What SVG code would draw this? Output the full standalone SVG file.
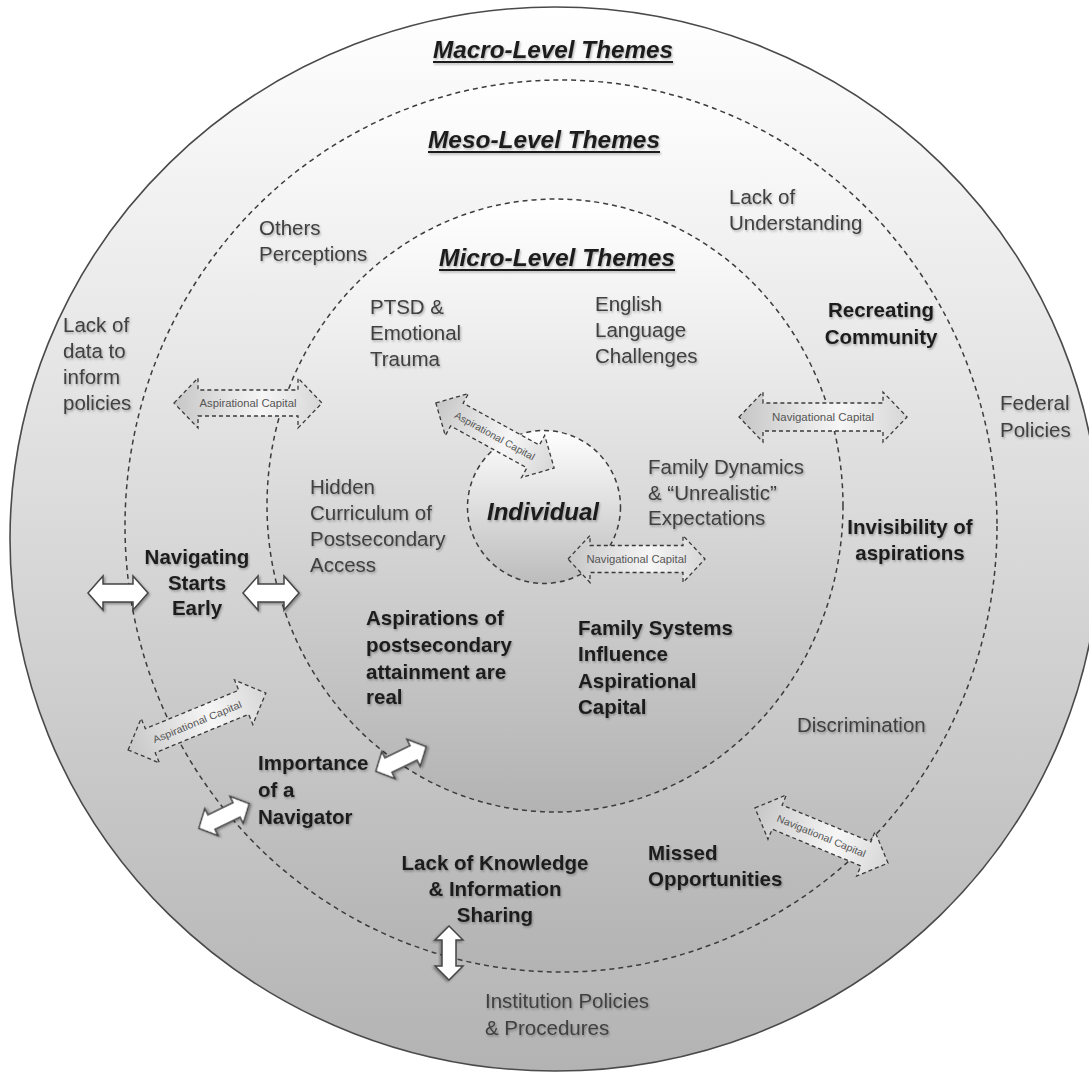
<svg xmlns="http://www.w3.org/2000/svg" width="1089" height="1072" viewBox="0 0 1089 1072">
<defs>
<linearGradient id="gFill" x1="0" y1="0" x2="0" y2="1">
<stop offset="0" stop-color="#ffffff"/>
<stop offset="1" stop-color="#b3b3b3"/>
</linearGradient>
<linearGradient id="gInd" x1="0" y1="0" x2="0" y2="1">
<stop offset="0" stop-color="#ffffff"/>
<stop offset="1" stop-color="#bcbcbc"/>
</linearGradient>
<linearGradient id="gArrow" x1="0" y1="0" x2="1" y2="0">
<stop offset="0" stop-color="#c6c6c6"/>
<stop offset="0.6" stop-color="#f6f6f6"/>
<stop offset="1" stop-color="#d6d6d6"/>
</linearGradient>
<filter id="ts" x="-10%" y="-30%" width="120%" height="160%">
<feDropShadow dx="1" dy="1.5" stdDeviation="0.9" flood-color="#000" flood-opacity="0.3"/>
</filter>
<filter id="us" filterUnits="userSpaceOnUse" x="0" y="0" width="1089" height="1072">
<feDropShadow dx="1" dy="1.5" stdDeviation="0.9" flood-color="#000" flood-opacity="0.3"/>
</filter>
<filter id="as" x="-20%" y="-40%" width="140%" height="180%">
<feDropShadow dx="1.5" dy="1.5" stdDeviation="1" flood-color="#000" flood-opacity="0.35"/>
</filter>
</defs>
<style>
.ring{fill:url(#gFill);}
.solid{stroke:#4a4a4a;stroke-width:1.6;}
.dash{stroke:#3c3c3c;stroke-width:1.5;stroke-dasharray:5 4;}
.t{font-family:"Liberation Sans",Arial,sans-serif;font-size:20.5px;fill:#404040;filter:url(#ts);}
.b{font-family:"Liberation Sans",Arial,sans-serif;font-size:20.5px;font-weight:bold;fill:#1e1e1e;filter:url(#ts);}
.h{font-family:"Liberation Sans",Arial,sans-serif;font-size:24px;font-weight:bold;font-style:italic;fill:#1e1e1e;filter:url(#ts);}
.ul{fill:#1e1e1e;filter:url(#us);}
.ind{font-family:"Liberation Sans",Arial,sans-serif;font-size:24px;font-weight:bold;font-style:italic;fill:#1a1a1a;filter:url(#ts);}
.da{fill:url(#gArrow);stroke:#3a3a3a;stroke-width:1.3;stroke-dasharray:4 3;}
.dl{font-family:"Liberation Sans",Arial,sans-serif;font-size:10px;fill:#555;}
.wa{fill:#ffffff;stroke:#444;stroke-width:1.5;filter:url(#as);}
</style>

<g id="rings">
<ellipse id="macro-ring" class="ring solid" cx="555" cy="539" rx="545" ry="532"/>
<ellipse id="meso-ring" class="ring dash" cx="561" cy="526" rx="436" ry="446"/>
<ellipse id="micro-ring" class="ring dash" cx="555" cy="505.5" rx="288" ry="306.5"/>
</g>

<g id="node-individual">
<circle cx="544" cy="507" r="76.5" fill="url(#gInd)" class="dash"/>
<text class="ind" x="543" y="520" text-anchor="middle">Individual</text>
</g>

<g id="heading-macro">
<text class="h" x="553" y="58" text-anchor="middle" textLength="240" lengthAdjust="spacingAndGlyphs">Macro-Level Themes</text>
<rect class="ul" x="433" y="61" width="240" height="2"/>
</g>
<g id="heading-meso">
<text class="h" x="544" y="148" text-anchor="middle" textLength="232" lengthAdjust="spacingAndGlyphs">Meso-Level Themes</text>
<rect class="ul" x="428" y="151" width="232" height="2"/>
</g>
<g id="heading-micro">
<text class="h" x="557" y="266" text-anchor="middle" textLength="236" lengthAdjust="spacingAndGlyphs">Micro-Level Themes</text>
<rect class="ul" x="439" y="269" width="236" height="2"/>
</g>

<g id="node-others-perceptions">
<text class="t" x="259" y="235">Others</text>
<text class="t" x="259" y="261">Perceptions</text>
</g>
<g id="node-lack-understanding">
<text class="t" x="729" y="204">Lack of</text>
<text class="t" x="729" y="230">Understanding</text>
</g>
<g id="node-lack-data">
<text class="t" x="63" y="332">Lack of</text>
<text class="t" x="63" y="358">data to</text>
<text class="t" x="63" y="384">inform</text>
<text class="t" x="63" y="410">policies</text>
</g>
<g id="node-ptsd">
<text class="t" x="370" y="314">PTSD &amp;</text>
<text class="t" x="370" y="340">Emotional</text>
<text class="t" x="370" y="366">Trauma</text>
</g>
<g id="node-english">
<text class="t" x="595" y="311">English</text>
<text class="t" x="595" y="337">Language</text>
<text class="t" x="595" y="363">Challenges</text>
</g>
<g id="node-recreating-community">
<text class="b" x="881" y="317" text-anchor="middle">Recreating</text>
<text class="b" x="881" y="344" text-anchor="middle">Community</text>
</g>
<g id="node-federal-policies">
<text class="t" x="1000" y="410">Federal</text>
<text class="t" x="1000" y="437">Policies</text>
</g>
<g id="node-family-dynamics">
<text class="t" x="648" y="474">Family Dynamics</text>
<text class="t" x="648" y="500">&amp; “Unrealistic”</text>
<text class="t" x="648" y="525">Expectations</text>
</g>
<g id="node-hidden-curriculum">
<text class="t" x="310" y="494">Hidden</text>
<text class="t" x="310" y="520">Curriculum of</text>
<text class="t" x="310" y="546">Postsecondary</text>
<text class="t" x="310" y="572">Access</text>
</g>
<g id="node-invisibility">
<text class="b" x="910" y="534" text-anchor="middle">Invisibility of</text>
<text class="b" x="910" y="560" text-anchor="middle">aspirations</text>
</g>
<g id="node-navigating-early">
<text class="b" x="197" y="564" text-anchor="middle">Navigating</text>
<text class="b" x="197" y="590" text-anchor="middle">Starts</text>
<text class="b" x="197" y="615" text-anchor="middle">Early</text>
</g>
<g id="node-aspirations-real">
<text class="b" x="366" y="625">Aspirations of</text>
<text class="b" x="366" y="652">postsecondary</text>
<text class="b" x="366" y="679">attainment are</text>
<text class="b" x="366" y="704">real</text>
</g>
<g id="node-family-systems">
<text class="b" x="578" y="635">Family Systems</text>
<text class="b" x="578" y="661">Influence</text>
<text class="b" x="578" y="688">Aspirational</text>
<text class="b" x="578" y="714">Capital</text>
</g>
<g id="node-discrimination">
<text class="t" x="797" y="732">Discrimination</text>
</g>
<g id="node-importance-navigator">
<text class="b" x="258" y="770">Importance</text>
<text class="b" x="258" y="797">of a</text>
<text class="b" x="258" y="824">Navigator</text>
</g>
<g id="node-lack-knowledge">
<text class="b" x="495" y="870" text-anchor="middle">Lack of Knowledge</text>
<text class="b" x="495" y="896" text-anchor="middle">&amp; Information</text>
<text class="b" x="495" y="922" text-anchor="middle">Sharing</text>
</g>
<g id="node-missed-opportunities">
<text class="b" x="648" y="860">Missed</text>
<text class="b" x="648" y="886">Opportunities</text>
</g>
<g id="node-institution-policies">
<text class="t" x="485" y="1008">Institution Policies</text>
<text class="t" x="485" y="1035">&amp; Procedures</text>
</g>

<g id="connectors">
<g transform="translate(248,403)">
<path class="da" d="M-74,0 L-50,-25 L-50,-13 L50,-13 L50,-25 L74,0 L50,25 L50,13 L-50,13 L-50,25 Z"/>
<text class="dl" x="0" y="4" text-anchor="middle" textLength="97" lengthAdjust="spacingAndGlyphs">Aspirational Capital</text>
</g>
<g transform="translate(495,435.5) rotate(28.8)">
<path class="da" d="M-67.5,0 L-43.5,-24 L-43.5,-13 L43.5,-13 L43.5,-24 L67.5,0 L43.5,24 L43.5,13 L-43.5,13 L-43.5,24 Z"/>
<text class="dl" x="0" y="4" text-anchor="middle" textLength="90" lengthAdjust="spacingAndGlyphs">Aspirational Capital</text>
</g>
<g transform="translate(636.5,559)">
<path class="da" d="M-68.5,0 L-46.5,-23.5 L-46.5,-13.5 L46.5,-13.5 L46.5,-23.5 L68.5,0 L46.5,23.5 L46.5,13.5 L-46.5,13.5 L-46.5,23.5 Z"/>
<text class="dl" x="0" y="4" text-anchor="middle" textLength="100" lengthAdjust="spacingAndGlyphs">Navigational Capital</text>
</g>
<g transform="translate(823,417)">
<path class="da" d="M-84,0 L-60,-25 L-60,-14 L60,-14 L60,-25 L84,0 L60,25 L60,14 L-60,14 L-60,25 Z"/>
<text class="dl" x="0" y="4" text-anchor="middle" textLength="102" lengthAdjust="spacingAndGlyphs">Navigational Capital</text>
</g>
<g transform="translate(197,721.5) rotate(-22.4)">
<path class="da" d="M-74.5,0 L-50.5,-24 L-50.5,-13 L50.5,-13 L50.5,-24 L74.5,0 L50.5,24 L50.5,13 L-50.5,13 L-50.5,24 Z"/>
<text class="dl" x="0" y="4" text-anchor="middle" textLength="95" lengthAdjust="spacingAndGlyphs">Aspirational Capital</text>
</g>
<g transform="translate(821.5,835.5) rotate(22.5)">
<path class="da" d="M-72,0 L-48,-24 L-48,-13 L48,-13 L48,-24 L72,0 L48,24 L48,13 L-48,13 L-48,24 Z"/>
<text class="dl" x="0" y="4" text-anchor="middle" textLength="95" lengthAdjust="spacingAndGlyphs">Navigational Capital</text>
</g>

<path class="wa" transform="translate(118,593)" d="M-30,0 L-15,-17 L-15,-9 L15,-9 L15,-17 L30,0 L15,17 L15,9 L-15,9 L-15,17 Z"/>
<path class="wa" transform="translate(271,593)" d="M-28,0 L-13,-17 L-13,-9 L13,-9 L13,-17 L28,0 L13,17 L13,9 L-13,9 L-13,17 Z"/>
<path class="wa" transform="translate(401,759) rotate(-26)" d="M-28,0 L-14,-15 L-14,-8 L14,-8 L14,-15 L28,0 L14,15 L14,8 L-14,8 L-14,15 Z"/>
<path class="wa" transform="translate(224,816) rotate(-26)" d="M-28,0 L-14,-15 L-14,-8 L14,-8 L14,-15 L28,0 L14,15 L14,8 L-14,8 L-14,15 Z"/>
<path class="wa" transform="translate(449,953) rotate(90)" d="M-27,0 L-13,-14 L-13,-7 L13,-7 L13,-14 L27,0 L13,14 L13,7 L-13,7 L-13,14 Z"/>
</g>
</svg>
